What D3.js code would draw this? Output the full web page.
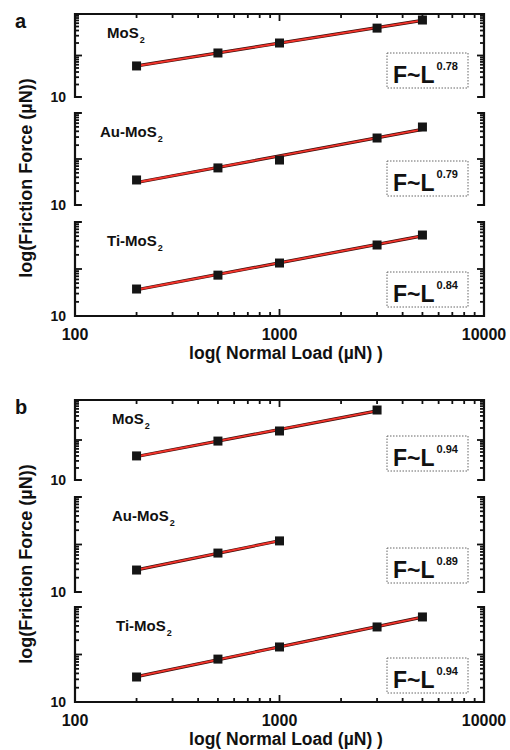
<!DOCTYPE html>
<html>
<head>
<meta charset="utf-8">
<script src="https://cdn.jsdelivr.net/npm/d3@7"></script>
<style>
  body { margin: 0; background: #fff; }
  text { font-family: "Liberation Sans", Arial, sans-serif; font-weight: bold; fill: #111; }
</style>
</head>
<body>
<script>
// loads (uN) and friction (uN)
var loads = [200, 500, 1000, 3000, 5000];
var materials = ["MoS", "Au-MoS", "Ti-MoS"];

var frictionA_MoS2 = [56, 115, 200, 457, 716];
var frictionA_AuMoS2 = [35, 64, 95, 286, 496];
var frictionA_TiMoS2 = [37.5, 74, 134, 324, 528];

var loadsB_MoS2 = [200, 500, 1000, 3000];
var loadsB_AuMoS2 = [200, 500, 1000];
var frictionB_MoS2 = [40, 94, 168, 562];
var frictionB_AuMoS2 = [29, 66, 119];
var frictionB_TiMoS2 = [33.6, 80, 144, 380, 617];

var exponentsA = ["0.78", "0.79", "0.84"];
var exponentsB = ["0.94", "0.89", "0.94"];

var xTickLabels = [100, 1000, 10000];
var yTickLabels = [10];

var panels = [
  { letter: "a", subs: [[14, 97], [113, 205], [222, 316]], labelX: [107, 100, 107],
    series: [
      { x: loads, y: frictionA_MoS2 },
      { x: loads, y: frictionA_AuMoS2 },
      { x: loads, y: frictionA_TiMoS2 }],
    exps: exponentsA },
  { letter: "b", subs: [[400, 480], [497, 592], [607, 702]], labelX: [112, 112, 116],
    series: [
      { x: loadsB_MoS2, y: frictionB_MoS2 },
      { x: loadsB_AuMoS2, y: frictionB_AuMoS2 },
      { x: loads, y: frictionB_TiMoS2 }],
    exps: exponentsB }
];

var plotLeft = 75, plotRight = 484;

var svg = d3.select("body").append("svg")
    .attr("width", 510)
    .attr("height", 750);

var x = d3.scaleLog().domain([100, 10000]).range([plotLeft, plotRight]);

// log ticks: majors at decades, minors at 2..9 of each decade
var xTicks = [];
[100, 1000].forEach(function (dec) {
  for (var k = 1; k <= 9; k++) xTicks.push(dec * k);
});
xTicks.push(10000);
var yTicks = [];
[10, 100].forEach(function (dec) {
  for (var k = 1; k <= 9; k++) yTicks.push(dec * k);
});
yTicks.push(1000);

function isMajor(v) {
  return Math.abs(Math.log10(v) - Math.round(Math.log10(v))) < 1e-9;
}

// power law fit in log space, drawn between first and last load
function fitLine(xs, ys) {
  var lx = xs.map(Math.log10), ly = ys.map(Math.log10);
  var mx = d3.mean(lx), my = d3.mean(ly);
  var num = d3.sum(lx, function (v, i) { return (v - mx) * (ly[i] - my); });
  var den = d3.sum(lx, function (v) { return (v - mx) * (v - mx); });
  var b = num / den, a = my - b * mx;
  return [xs[0], xs[xs.length - 1]].map(function (v) {
    return [v, Math.pow(10, a + b * Math.log10(v))];
  });
}

var axesLayer = svg.append("g").attr("stroke", "#111");
var markLayer = svg.append("g");

function xTickMarks(yPos, dir) {
  axesLayer.append("g").selectAll("line")
    .data(xTicks)
    .enter()
    .append("line")
    .attr("x1", function (d) { return x(d); })
    .attr("x2", function (d) { return x(d); })
    .attr("y1", yPos)
    .attr("y2", function (d) { return yPos + dir * (isMajor(d) ? 7 : 4); })
    .attr("stroke-width", 1.8);
}

function yTickMarks(y, xPos, dir) {
  axesLayer.append("g").selectAll("line")
    .data(yTicks)
    .enter()
    .append("line")
    .attr("x1", xPos)
    .attr("x2", function (d) { return xPos + dir * (isMajor(d) ? 7 : 4); })
    .attr("y1", function (d) { return y(d); })
    .attr("y2", function (d) { return y(d); })
    .attr("stroke-width", 1.8);
}

panels.forEach(function (p) {
  var pTop = p.subs[0][0], pBottom = p.subs[2][1];

  // top and bottom axis lines of the panel
  [pTop, pBottom].forEach(function (yPos, j) {
    axesLayer.append("line")
      .attr("x1", x(100) - 1).attr("x2", x(10000) + 1)
      .attr("y1", yPos).attr("y2", yPos)
      .attr("stroke-width", 2.2);
    xTickMarks(yPos, j == 0 ? 1 : -1);
  });

  svg.append("g").selectAll("text")
    .data(xTickLabels)
    .enter()
    .append("text")
    .attr("x", function (d) { return x(d); })
    .attr("y", pBottom + 24)
    .attr("text-anchor", "middle")
    .attr("font-size", 16)
    .text(function (d) { return d; });

  svg.append("text")
    .attr("x", 286).attr("y", pBottom + 43)
    .attr("text-anchor", "middle").attr("font-size", 17.5)
    .text("log( Normal Load (\u00b5N) )");

  svg.append("text")
    .attr("transform", "translate(32," + ((pTop + pBottom) / 2 + 13) + ") rotate(-90)")
    .attr("text-anchor", "middle").attr("font-size", 18)
    .text("log(Friction Force (\u00b5N))");

  svg.append("text")
    .attr("x", 15).attr("y", pTop + 14)
    .attr("font-size", 20)
    .text(p.letter);

  p.subs.forEach(function (s, i) {
    var y = d3.scaleLog().domain([10, 1000]).range([s[1], s[0]]);

    // bracket shaped side axes
    [[plotLeft, 1], [plotRight, -1]].forEach(function (side) {
      var xp = side[0], dir = side[1];
      axesLayer.append("path")
        .attr("d", "M" + (xp + dir * 6) + "," + y(1000) + "H" + xp + "V" + y(10) + "H" + (xp + dir * 6))
        .attr("fill", "none")
        .attr("stroke-width", 2.2);
      yTickMarks(y, xp, dir);
    });

    svg.append("g").selectAll("text")
      .data(yTickLabels)
      .enter()
      .append("text")
      .attr("x", plotLeft - 9)
      .attr("y", function (d) { return y(d) + 5; })
      .attr("text-anchor", "end")
      .attr("font-size", 14)
      .text(function (d) { return d; });

    var ser = p.series[i];
    var pts = ser.x.map(function (v, j) { return [v, ser.y[j]]; });
    var fit = fitLine(ser.x, ser.y);
    var line = d3.line()
      .x(function (d) { return x(d[0]); })
      .y(function (d) { return y(d[1]); });

    markLayer.append("path").datum(fit).attr("d", line)
      .attr("fill", "none").attr("stroke", "#3a0c08").attr("stroke-width", 3.2);
    markLayer.append("path").datum(fit).attr("d", line)
      .attr("fill", "none").attr("stroke", "#f2332b").attr("stroke-width", 1.9);

    markLayer.append("g").selectAll("rect")
      .data(pts)
      .enter()
      .append("rect")
      .attr("x", function (d) { return x(d[0]) - 4.5; })
      .attr("y", function (d) { return y(d[1]) - 4.5; })
      .attr("width", 9)
      .attr("height", 9)
      .attr("fill", "#151515");

    // material label with subscript 2
    var lab = markLayer.append("text")
      .attr("x", p.labelX[i])
      .attr("y", s[0] + 24)
      .attr("font-size", 15);
    lab.append("tspan").text(materials[i]);
    lab.append("tspan").attr("font-size", 9).attr("dy", 5).attr("dx", 1).text("2");

    // exponent box
    var bx = plotRight - 16 - 81, by = s[1] - 9 - 35;
    markLayer.append("rect")
      .attr("x", bx).attr("y", by).attr("width", 81).attr("height", 35)
      .attr("fill", "#fff").attr("stroke", "#666").attr("stroke-width", 1)
      .attr("stroke-dasharray", "1.5,1.5");
    var ft = markLayer.append("text")
      .attr("x", bx + 6).attr("y", by + 30)
      .attr("font-size", 23);
    ft.append("tspan").text("F~L");
    ft.append("tspan").attr("font-size", 11).attr("dy", -13).attr("dx", 2).text(p.exps[i]);
  });
});
</script>
</body>
</html>
